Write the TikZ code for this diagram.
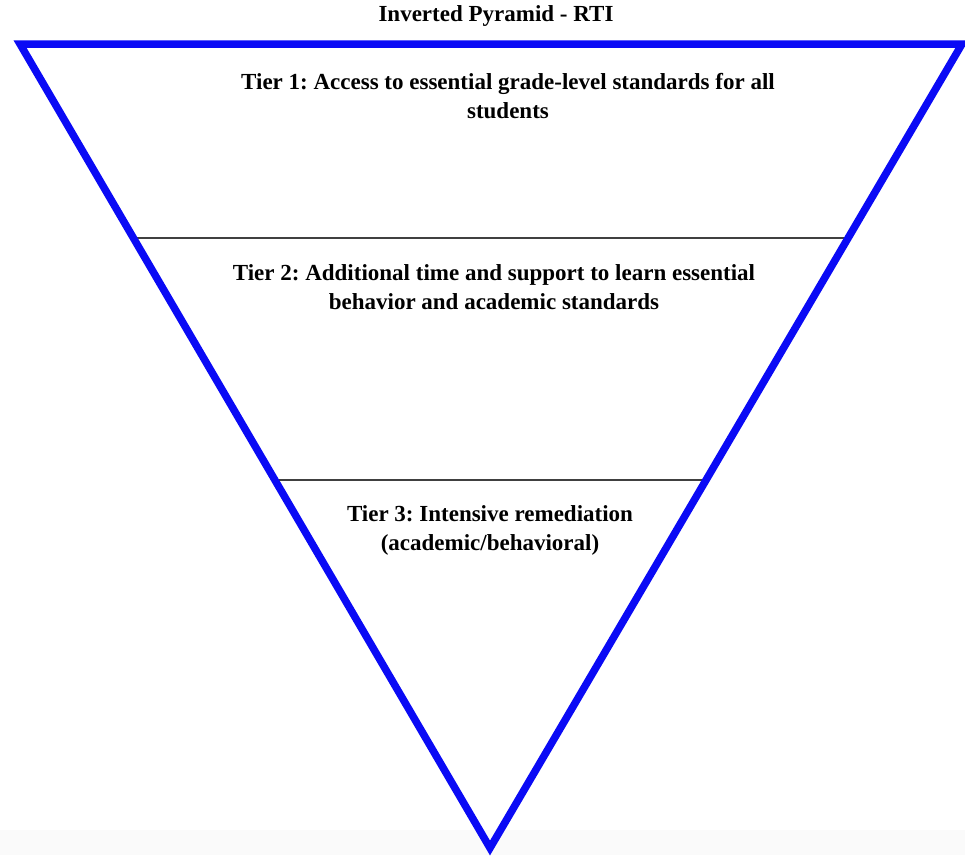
\documentclass[tikz,border=0pt]{standalone}
\usepackage{fontspec}
\setmainfont{Liberation Serif}
\begin{document}
\frenchspacing
\begin{tikzpicture}[x=1pt,y=-1pt,
  tri/.style={draw={rgb,255:red,10;green,10;blue,245},line width=7.5pt,line join=miter},
  sep/.style={draw=black!75,line width=1.6pt},
  lbl/.style={font=\fontsize{23}{29}\selectfont\bfseries\frenchspacing,align=center,inner sep=0pt}]
\useasboundingbox[fill=white] (0,0) rectangle (965,855);
\fill[black!2] (0,830) rectangle (965,855);
\coordinate (tl) at (20,44);
\coordinate (tr) at (962,44);
\coordinate (ap) at (490,848);
\coordinate (a1) at (133,238);
\coordinate (b1) at (848,238);
\coordinate (a2) at (275,480);
\coordinate (b2) at (706,480);
\draw[sep] (a1) -- (b1);
\draw[sep] (a2) -- (b2);
\draw[tri] (tl) -- (tr) -- (ap) -- cycle;
\node[lbl] (title) at (496,16) {Inverted Pyramid - RTI};
\node[lbl] (t1) at (508,96) {Tier 1: Access to essential grade-level standards for all\\students};
\node[lbl] (t2) at (494,287) {Tier 2: Additional time and support to learn essential\\behavior and academic standards};
\node[lbl] (t3) at (490,530) {Tier 3: Intensive remediation\\(academic/behavioral)};
\end{tikzpicture}
\end{document}
